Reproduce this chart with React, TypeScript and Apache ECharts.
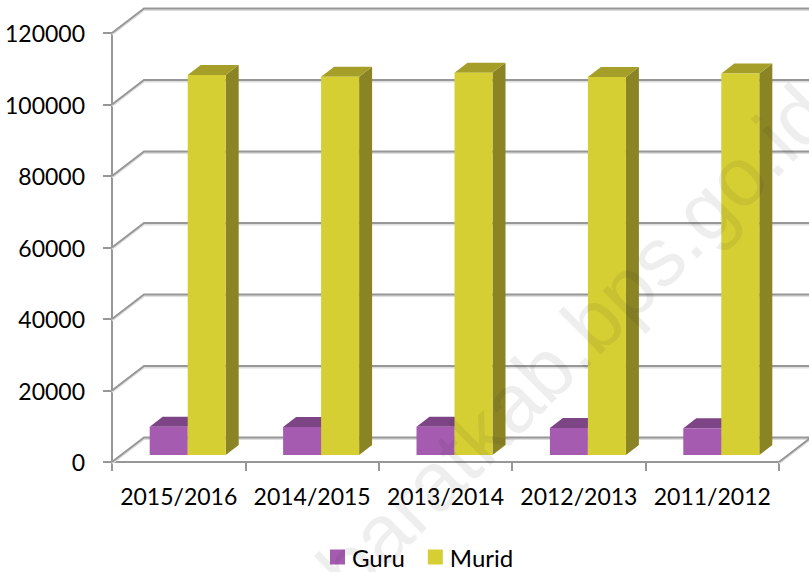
import React, { useEffect, useRef } from "react";
import * as echarts from "echarts";

const categories = ["2015/2016", "2014/2015", "2013/2014", "2012/2013", "2011/2012"];
const guru = [7900, 7800, 7900, 7550, 7450];
const murid = [106300, 105800, 106900, 105750, 106700];
const tickValues = [0, 20000, 40000, 60000, 80000, 100000, 120000];
const seriesNames = ["Guru", "Murid"];
const watermark = "baratkab.bps.go.id";

const FONT = "Lato";
const WALL_DX = 32;
const WALL_DY = 24.5;
const LINE = "#979797";
const SHADOW = "#dedede";

function wallItem(params: any, api: any) {
  const v = api.value(0);
  const cs = params.coordSys;
  const y = api.coord([0, v])[1];
  const x0 = cs.x;
  const x1 = cs.x + cs.width;
  const pts = [
    [x0, y],
    [x0 + WALL_DX, y - WALL_DY],
    [x1 + WALL_DX, y - WALL_DY],
  ];
  if (v === 0) pts.push([x1, y]);
  const mk = (dy: number, stroke: string) => ({
    type: "polyline",
    shape: { points: pts.map((p) => [p[0], p[1] + dy]) },
    style: { stroke, fill: "none", lineWidth: 2 },
  });
  return { type: "group", children: [mk(1.5, SHADOW), mk(0, LINE)] };
}

function barItem(side: -1 | 1, colors: { front: string; top: string; side: string }) {
  return (params: any, api: any) => {
    const idx = api.value(0);
    const val = api.value(1);
    const base = api.coord([idx, 0]);
    const top = api.coord([idx, val]);
    const bw = 38;
    const xc = base[0] + 9;
    const xl = side < 0 ? xc - bw : xc;
    const xr = xl + bw;
    const yb = base[1] - 7;
    const yt = top[1] - 7;
    const dx = 13;
    const dy = 10;
    return {
      type: "group",
      children: [
        {
          type: "polygon",
          shape: { points: [[xr, yt], [xr + dx, yt - dy], [xr + dx, yb - dy], [xr, yb]] },
          style: { fill: colors.side },
        },
        {
          type: "polygon",
          shape: { points: [[xl, yt], [xl + dx, yt - dy], [xr + dx, yt - dy], [xr, yt]] },
          style: { fill: colors.top },
        },
        {
          type: "rect",
          shape: { x: xl, y: yt, width: bw, height: yb - yt },
          style: { fill: colors.front },
        },
      ],
    };
  };
}

export default function App() {
  const ref = useRef<HTMLDivElement>(null);
  useEffect(() => {
    const chart = echarts.init(ref.current!, null, { renderer: "svg" });
    chart.setOption({
      animation: false,
      backgroundColor: "#ffffff",
      textStyle: { fontFamily: FONT },
      grid: { left: 112, right: 30, top: 33, bottom: 110, containLabel: false },
      legend: {
        data: seriesNames,
        left: 325,
        top: 540,
        icon: "rect",
        itemWidth: 15,
        itemHeight: 15,
        itemGap: 23,
        textStyle: { fontFamily: FONT, fontSize: 24, color: "#000", padding: [0, 0, 0, 2] },
      },
      xAxis: {
        type: "category",
        data: categories,
        boundaryGap: true,
        axisLine: { lineStyle: { color: LINE, width: 2 } },
        axisTick: { show: true, length: 9, lineStyle: { color: LINE, width: 2 } },
        axisLabel: { fontFamily: FONT, fontSize: 23, color: "#000", margin: 22, interval: 0 },
        splitLine: { show: false },
      },
      yAxis: {
        type: "value",
        min: 0,
        max: 120000,
        interval: 20000,
        axisLine: { show: true, lineStyle: { color: LINE, width: 2 } },
        axisTick: { show: true, length: 9, lineStyle: { color: LINE, width: 2 } },
        axisLabel: {
          fontFamily: FONT,
          fontSize: 23,
          color: "#000",
          margin: 27,
          padding: [4, 0, 0, 0],
          formatter: (v: number) => String(v),
        },
        splitLine: { show: false },
      },
      graphic: [
        {
          type: "text",
          x: 815,
          y: 100,
          rotation: Math.PI / 4,
          z: 100,
          silent: true,
          style: {
            text: watermark,
            fill: "rgba(40,40,40,0.08)",
            font: '83px "Liberation Sans"',
            textAlign: "right",
            textVerticalAlign: "middle",
          },
        },
      ],
      series: [
        {
          type: "custom",
          name: "wall",
          coordinateSystem: "cartesian2d",
          silent: true,
          clip: false,
          z: 1,
          data: tickValues.map((v) => [v]),
          encode: { y: 0 },
          renderItem: wallItem,
        },
        {
          type: "custom",
          name: seriesNames[0],
          coordinateSystem: "cartesian2d",
          clip: false,
          z: 3,
          itemStyle: { color: "#A55CB0" },
          data: guru.map((v, i) => [i, v]),
          encode: { x: 0, y: 1 },
          renderItem: barItem(-1, { front: "#A55CB0", top: "#7D4586", side: "#6D3C75" }),
        },
        {
          type: "custom",
          name: seriesNames[1],
          coordinateSystem: "cartesian2d",
          clip: false,
          z: 4,
          itemStyle: { color: "#D6CF33" },
          data: murid.map((v, i) => [i, v]),
          encode: { x: 0, y: 1 },
          renderItem: barItem(1, { front: "#D6CF33", top: "#A59E28", side: "#8A8425" }),
        },
      ],
    });
    return () => chart.dispose();
  }, []);
  return <div ref={ref} style={{ position: "fixed", left: 0, top: 0, width: 809, height: 572 }} />;
}
